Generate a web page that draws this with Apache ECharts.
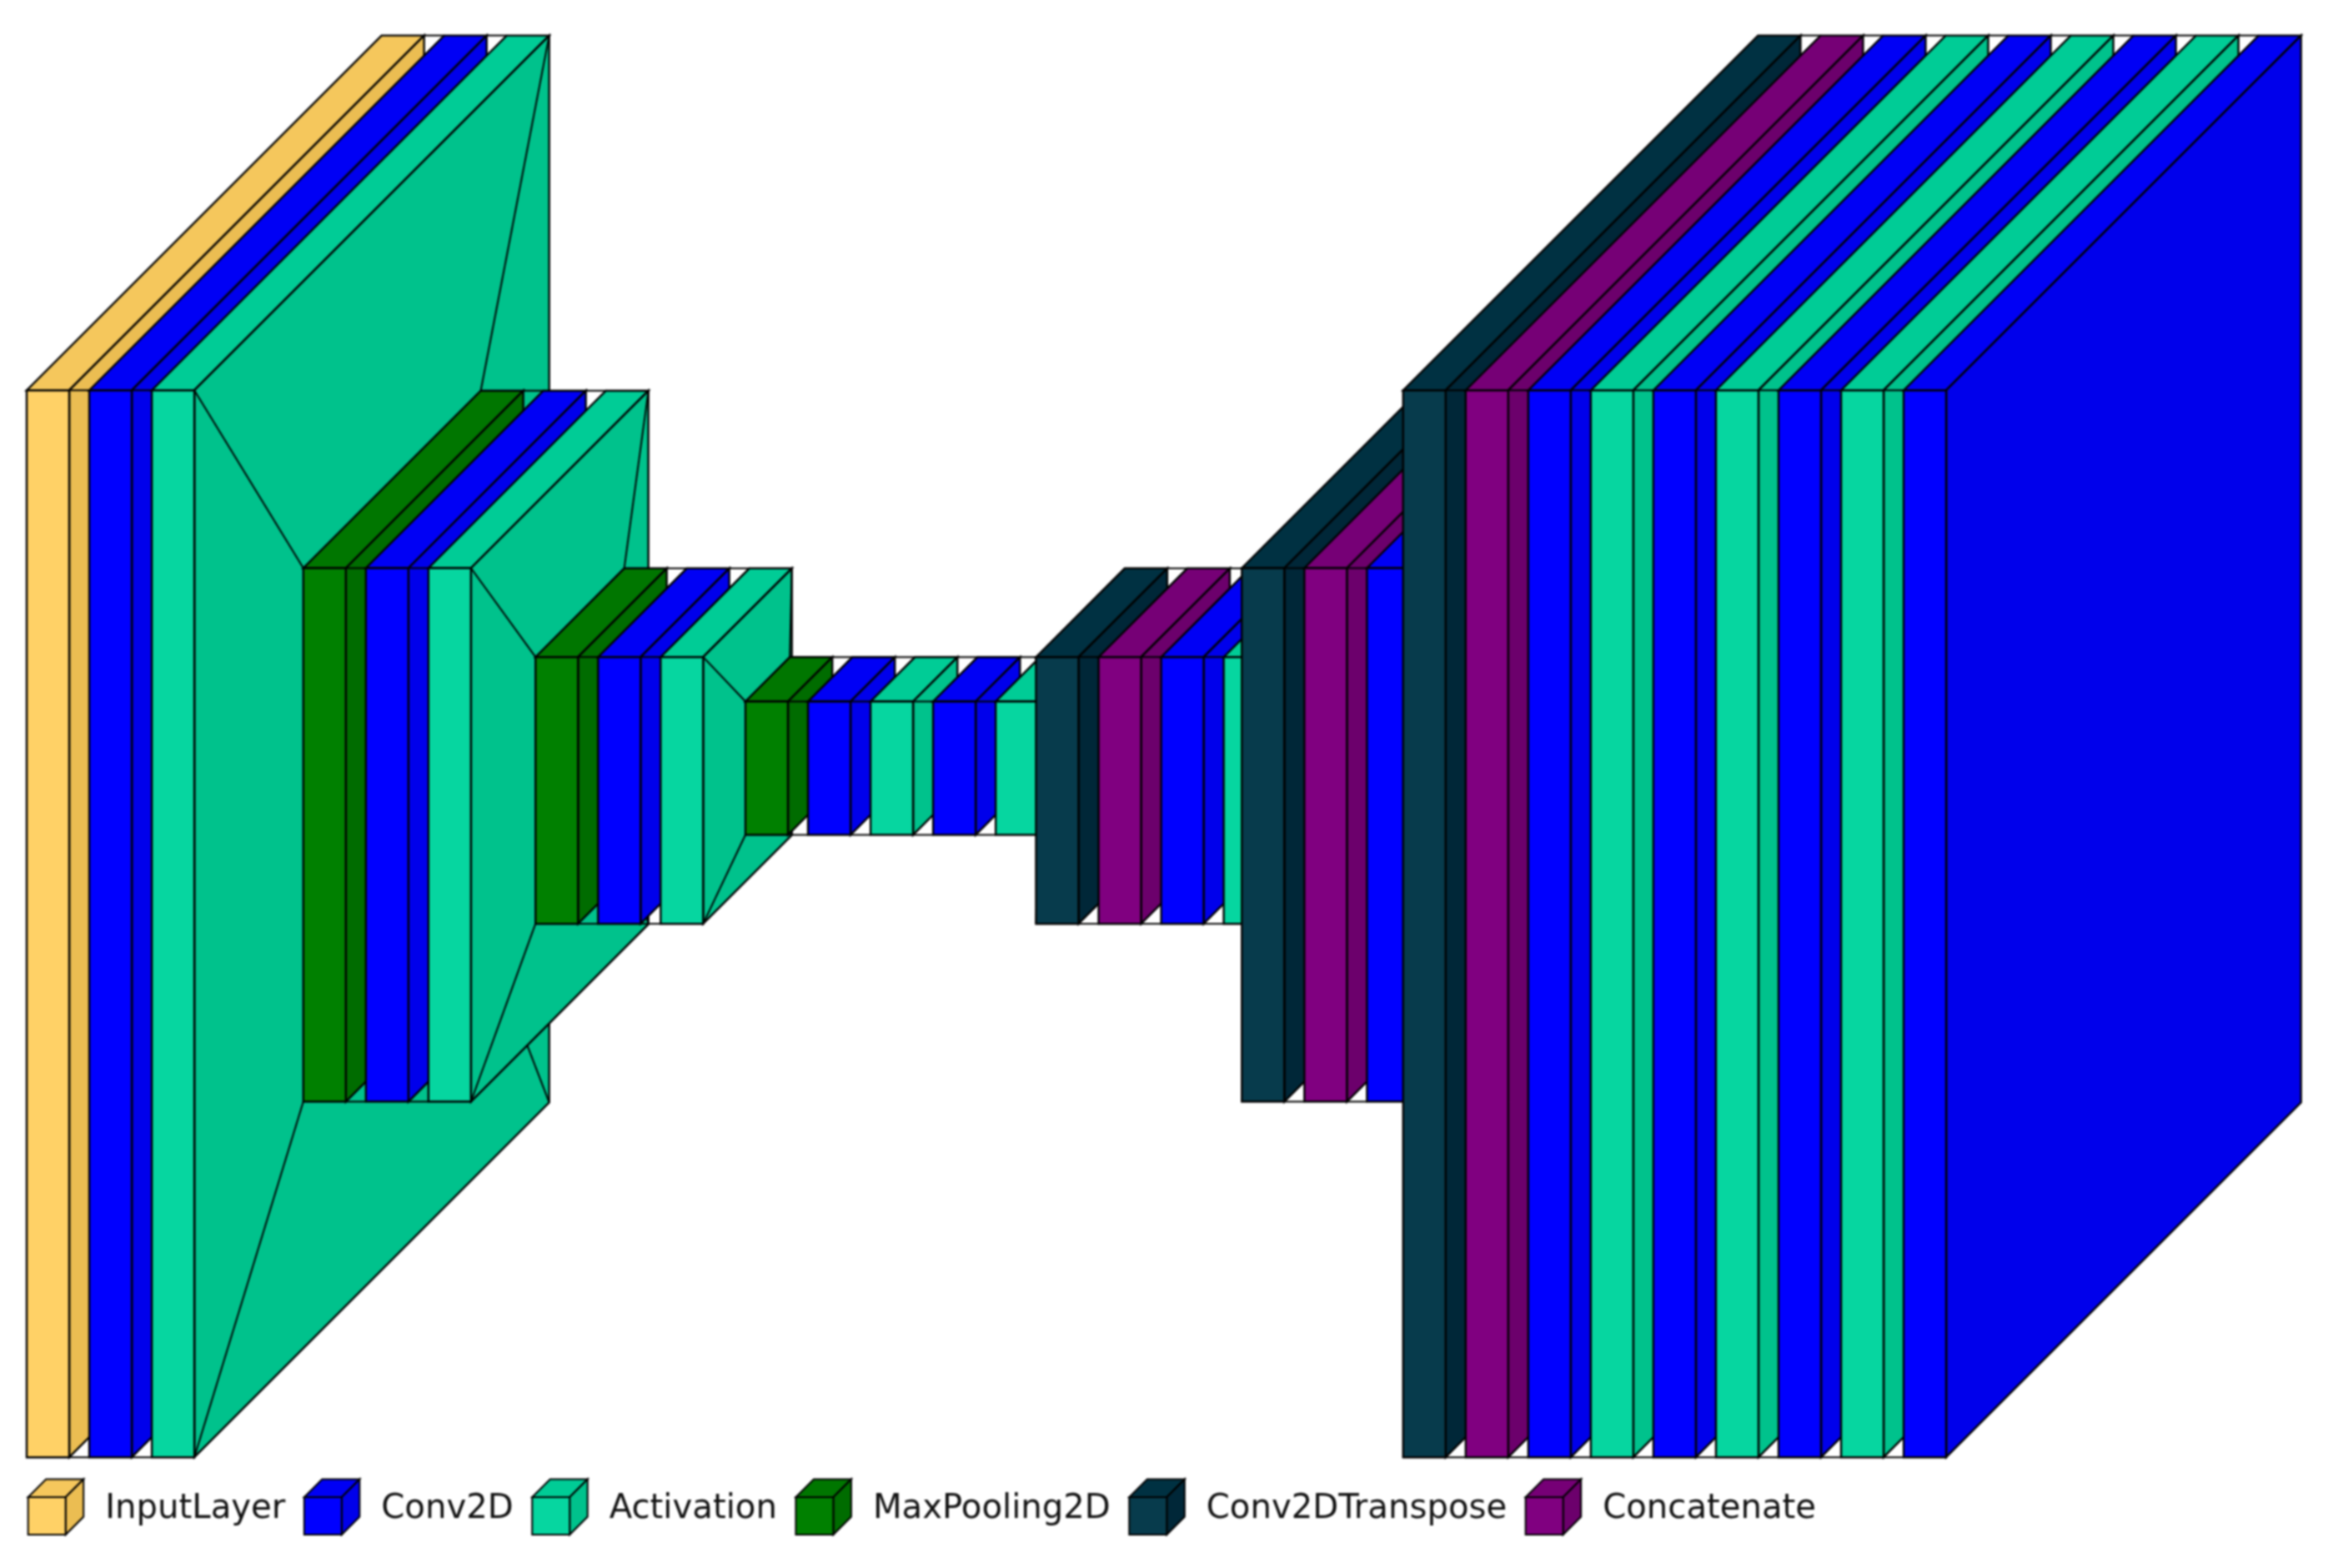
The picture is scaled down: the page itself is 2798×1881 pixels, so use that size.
<!DOCTYPE html>
<html>
<head>
<meta charset="utf-8">
<style>
html,body{margin:0;padding:0;background:#fff;}
#chart{width:2798px;height:1881px;filter:blur(0.8px);}
</style>
<script src="https://cdn.jsdelivr.net/npm/echarts@6/dist/echarts.min.js"></script>
</head>
<body>
<div id="chart"></div>
<script>
// ---- data ----
var layerTypes = [
  'InputLayer','Conv2D','Activation',
  'MaxPooling2D','Conv2D','Activation',
  'MaxPooling2D','Conv2D','Activation',
  'MaxPooling2D','Conv2D','Activation','Conv2D','Activation',
  'Conv2DTranspose','Concatenate','Conv2D','Activation',
  'Conv2DTranspose','Concatenate','Conv2D','Activation',
  'Conv2DTranspose','Concatenate','Conv2D','Activation','Conv2D','Activation','Conv2D','Activation','Conv2D'
];
var layerSizes = [
  256,256,256,
  128,128,128,
  64,64,64,
  32,32,32,32,32,
  64,64,64,64,
  128,128,128,128,
  256,256,256,256,256,256,256,256,256
];
var legendLabels = ['InputLayer','Conv2D','Activation','MaxPooling2D','Conv2DTranspose','Concatenate'];

// ---- styles and scale ----
var typeColors = {
  InputLayer:[255,209,102], Conv2D:[0,0,255], Activation:[6,214,160],
  MaxPooling2D:[0,128,0], Conv2DTranspose:[7,59,76], Concatenate:[128,0,128]
};
var FONT = '40.2px "DejaVu Sans"';
var UNIT = 5;               // pixels per axis unit on both axes
var STACK_START = 49.07, STACK_STEP = 15.007, LAYER_WIDTH = 10.2;
var DEPTH_RATIO = 0.3325;
var SHADE = 10;
var X_MAX = 559.6, Y_MAX = 178.97, Y_MIN = -197.23;

function rgb(c, fade){
  return 'rgb(' + c.map(function(v){return Math.max(0, v - fade);}).join(',') + ')';
}
function boxGeom(i){
  var s = layerSizes[i], de = s * DEPTH_RATIO;
  var x1 = STACK_START + i * STACK_STEP - s / 6;
  return {x1:x1, x2:x1 + LAYER_WIDTH, top:s / 3, bottom:-s * 2 / 3, de:de};
}
function poly(api, pts, fill, lw){
  return {
    type:'polygon',
    shape:{points:pts.map(function(p){return api.coord(p);})},
    style:{fill:fill, stroke:'#000', lineWidth:lw, lineJoin:'miter'}
  };
}
function line(api, a, b, lw){
  var p = api.coord(a), q = api.coord(b);
  return {type:'line', shape:{x1:p[0],y1:p[1],x2:q[0],y2:q[1]}, style:{stroke:'#000', lineWidth:lw, fill:null}};
}
function cube(api, g, col, lw){
  return [
    poly(api, [[g.x1,g.top],[g.x2,g.top],[g.x2+g.de,g.top+g.de],[g.x1+g.de,g.top+g.de]], rgb(col,SHADE), lw),
    poly(api, [[g.x2,g.top],[g.x2+g.de,g.top+g.de],[g.x2+g.de,g.bottom+g.de],[g.x2,g.bottom]], rgb(col,2*SHADE), lw),
    poly(api, [[g.x1,g.top],[g.x2,g.top],[g.x2,g.bottom],[g.x1,g.bottom]], rgb(col,0), lw)
  ];
}
function renderLayer(params, api){
  var i = api.value(0);
  var g = boxGeom(i), kids = [];
  if(i > 0){
    var p = boxGeom(i - 1);
    kids.push(line(api,[p.x2+p.de,p.top+p.de],[g.x1+g.de,g.top+g.de],2));
    kids.push(line(api,[p.x2+p.de,p.bottom+p.de],[g.x1+g.de,g.bottom+g.de],2));
    kids.push(line(api,[p.x2,p.top],[g.x1,g.top],2));
    kids.push(line(api,[p.x2,p.bottom],[g.x1,g.bottom],2));
  }
  kids = kids.concat(cube(api, g, typeColors[layerTypes[i]], 2.4));
  return {type:'group', children:kids};
}

// legend flows from the measured label widths
var measure = document.createElement('canvas').getContext('2d');
measure.font = FONT;
var legendStarts = [], cursor = 33.7;
legendLabels.forEach(function(t){
  legendStarts.push(cursor);
  cursor += 92.5 + measure.measureText(t).width + 22.5;
});
function renderLegend(params, api){
  var i = api.value(0), px = legendStarts[i];
  var g = {x1:px/UNIT, x2:(px+45)/UNIT, top:Y_MAX-1796/UNIT, bottom:Y_MAX-1841/UNIT, de:4.3};
  var kids = cube(api, g, typeColors[legendLabels[i]], 2);
  var mid = api.coord([(px+92.5)/UNIT, Y_MAX-1810.5/UNIT]);
  kids.push({type:'text', style:{text:legendLabels[i], x:mid[0], y:mid[1], font:FONT, fill:'#111', textAlign:'left', textVerticalAlign:'middle', verticalAlign:'middle'}});
  return {type:'group', children:kids};
}

var chart = echarts.init(document.getElementById('chart'), null, {renderer:'canvas', devicePixelRatio:1});
chart.setOption({
  animation:false,
  backgroundColor:'#fff',
  grid:{left:0,right:0,top:0,bottom:0},
  xAxis:{type:'value',min:0,max:X_MAX,show:false},
  yAxis:{type:'value',min:Y_MIN,max:Y_MAX,show:false},
  series:[
    {type:'custom', name:'layers', coordinateSystem:'cartesian2d', clip:false, silent:true,
     data:layerSizes.map(function(s,i){return [i,s];}), encode:{x:0,y:1}, renderItem:renderLayer},
    {type:'custom', name:'legend', coordinateSystem:'cartesian2d', clip:false, silent:true,
     data:legendLabels.map(function(t,i){return [i,0];}), encode:{x:0,y:1}, renderItem:renderLegend}
  ]
});
</script>
</body>
</html>
